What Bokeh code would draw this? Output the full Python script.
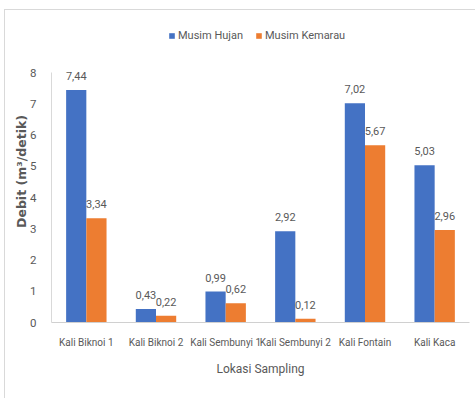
from bokeh.plotting import figure
from bokeh.models import ColumnDataSource, FactorRange, Range1d, Legend, LegendItem
from bokeh.transform import dodge
from bokeh.core.properties import value
from bokeh.embed import file_html
from bokeh.resources import INLINE

# ---- data ----
categories = ["Kali Biknoi 1", "Kali Biknoi 2", "Kali Sembunyi 1",
              "Kali Sembunyi 2", "Kali Fontain", "Kali Kaca"]
musim_hujan = [7.44, 0.43, 0.99, 2.92, 7.02, 5.03]
musim_kemarau = [3.34, 0.22, 0.62, 0.12, 5.67, 2.96]
series_names = ["Musim Hujan", "Musim Kemarau"]
y_ticks = [0, 1, 2, 3, 4, 5, 6, 7, 8]
y_max = 8

BLUE = "#4472C4"
ORANGE = "#ED7D31"
GRAY = "#595959"
FONT = "Roboto"

def fmt(v):
    return f"{v:.2f}".replace(".", ",")

src = ColumnDataSource(dict(
    cat=categories,
    hujan=musim_hujan,
    kemarau=musim_kemarau,
    hujan_lbl=[fmt(v) for v in musim_hujan],
    kemarau_lbl=[fmt(v) for v in musim_kemarau],
))

# frame extends above the value axis to leave room for the legend
p = figure(
    x_range=FactorRange(*categories),
    y_range=Range1d(0, 9.664),
    width=471, height=389,
    output_backend="svg", toolbar_location=None,
    min_border_left=46, min_border_right=7,
    min_border_top=10, min_border_bottom=77,
)
p.styles = {"margin-left": "4px", "margin-top": "9px",
            "border-left": "1px solid #d9d9d9", "border-top": "1px solid #d9d9d9"}
p.outline_line_color = None
p.background_fill_color = "white"
p.border_fill_color = "white"
p.xgrid.grid_line_color = None
p.ygrid.grid_line_color = None

bw = 0.29
off = 0.145
r1 = p.vbar(x=dodge("cat", -off, range=p.x_range), top="hujan", width=bw,
            source=src, fill_color=BLUE, line_color=None)
r2 = p.vbar(x=dodge("cat", off, range=p.x_range), top="kemarau", width=bw,
            source=src, fill_color=ORANGE, line_color=None)

for field, lbl, o in (("hujan", "hujan_lbl", -off), ("kemarau", "kemarau_lbl", off)):
    p.text(x=dodge("cat", o, range=p.x_range), y=field, text=lbl, source=src,
           text_align="center", text_baseline="bottom", y_offset=-10,
           text_font=value(FONT), text_font_size="11px", text_color=GRAY)

# axes
p.yaxis.ticker = y_ticks
p.yaxis.bounds = (0, y_max)
p.yaxis.axis_line_color = "#d9d9d9"
p.yaxis.major_tick_line_color = None
p.yaxis.minor_tick_line_color = None
p.yaxis.major_label_standoff = 9
p.yaxis.major_label_text_font = FONT
p.yaxis.major_label_text_font_size = "11.5px"
p.yaxis.major_label_text_color = GRAY
p.yaxis.axis_label = "Debit (m³/detik)"
p.yaxis.axis_label_text_font = "DejaVu Sans"
p.yaxis.axis_label_text_font_size = "12.5px"
p.yaxis.axis_label_text_font_style = "bold"
p.yaxis.axis_label_text_color = GRAY
p.yaxis.axis_label_standoff = -2

p.xaxis.axis_line_color = "#d0d0d0"
p.xaxis.major_tick_line_color = None
p.xaxis.minor_tick_line_color = None
p.xaxis.major_label_standoff = 8
p.xaxis.major_label_text_font = FONT
p.xaxis.major_label_text_font_size = "10px"
p.xaxis.major_label_text_color = GRAY
p.xaxis.axis_label = "Lokasi Sampling"
p.xaxis.axis_label_text_font = FONT
p.xaxis.axis_label_text_font_size = "12px"
p.xaxis.axis_label_text_font_style = "normal"
p.xaxis.axis_label_text_color = GRAY
p.xaxis.axis_label_standoff = 11

legend = Legend(
    items=[LegendItem(label=series_names[0], renderers=[r1]),
           LegendItem(label=series_names[1], renderers=[r2])],
    orientation="horizontal", location=(117, 280),
    glyph_width=7, glyph_height=7, label_standoff=3, spacing=12,
    padding=0, margin=0, border_line_color=None, background_fill_alpha=0,
    label_text_font=FONT, label_text_font_size="11px", label_text_color=GRAY,
    label_height=12,
)
p.add_layout(legend, "center")

open("out.html", "w").write(file_html(p, INLINE))
